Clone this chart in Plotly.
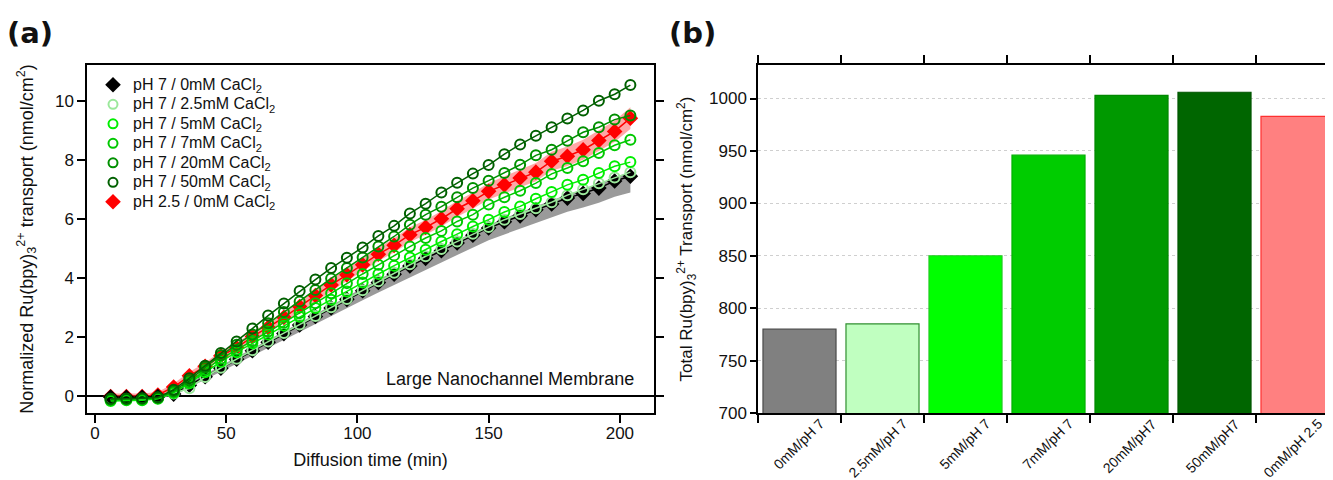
import plotly.graph_objects as go

# ---------------- data: panel (a) ----------------
time_min = [6, 12, 18, 24, 30, 36, 42, 48, 54, 60, 66, 72, 78, 84, 90, 96, 102, 108, 114, 120,
            126, 132, 138, 144, 150, 156, 162, 168, 174, 180, 186, 192, 198, 204]

ph7_0mM = [-0.02, -0.03, -0.03, 0.00, 0.08, 0.38, 0.67, 0.96, 1.26, 1.55, 1.84, 2.13, 2.42, 2.71, 3.00, 3.29, 3.58,
           3.86, 4.14, 4.42, 4.68, 4.94, 5.20, 5.46, 5.71, 5.92, 6.12, 6.33, 6.52, 6.72, 6.88, 7.06, 7.30, 7.46]
ph7_0mM_err_up = [0.06, 0.06, 0.06, 0.06, 0.08, 0.08, 0.08, 0.08, 0.08, 0.08, 0.08, 0.08, 0.08, 0.08, 0.08, 0.10, 0.10,
                  0.10, 0.10, 0.10, 0.10, 0.10, 0.10, 0.10, 0.10, 0.12, 0.12, 0.12, 0.12, 0.12, 0.12, 0.12, 0.13, 0.15]
ph7_0mM_err_dn = [0.06, 0.06, 0.06, 0.06, 0.06, 0.08, 0.10, 0.12, 0.14, 0.16, 0.19, 0.21, 0.24, 0.26, 0.28, 0.30, 0.32,
                  0.34, 0.36, 0.38, 0.39, 0.40, 0.41, 0.41, 0.42, 0.43, 0.44, 0.44, 0.45, 0.46, 0.48, 0.50, 0.53, 0.55]
ph7_2p5mM = [-0.10, -0.10, -0.10, -0.06, 0.10, 0.28, 0.66, 0.97, 1.28, 1.57, 1.86, 2.15, 2.44, 2.73, 3.02, 3.30, 3.60,
             3.90, 4.19, 4.48, 4.75, 5.00, 5.25, 5.51, 5.74, 5.99, 6.18, 6.38, 6.58, 6.82, 7.02, 7.22, 7.42, 7.60]
ph7_5mM = [-0.15, -0.13, -0.13, -0.08, 0.12, 0.45, 0.82, 1.18, 1.50, 1.80, 2.10, 2.40, 2.70, 3.00, 3.28, 3.56, 3.86,
           4.15, 4.43, 4.71, 4.97, 5.25, 5.50, 5.76, 5.99, 6.25, 6.44, 6.70, 6.93, 7.17, 7.34, 7.57, 7.80, 7.94]
ph7_7mM = [-0.12, -0.10, -0.10, -0.06, 0.15, 0.48, 0.90, 1.28, 1.58, 1.88, 2.20, 2.50, 2.83, 3.16, 3.50, 3.84, 4.15,
           4.46, 4.78, 5.08, 5.37, 5.61, 5.93, 6.16, 6.50, 6.75, 6.97, 7.23, 7.54, 7.74, 7.97, 8.25, 8.51, 8.70]
ph7_20mM = [-0.10, -0.08, -0.08, -0.04, 0.18, 0.55, 0.98, 1.40, 1.75, 2.10, 2.48, 2.86, 3.22, 3.61, 4.00, 4.35, 4.71,
            5.08, 5.42, 5.82, 6.16, 6.43, 6.75, 7.06, 7.31, 7.57, 7.85, 8.17, 8.36, 8.66, 8.95, 9.12, 9.38, 9.52]
ph7_50mM = [-0.08, -0.08, -0.06, -0.03, 0.23, 0.62, 1.04, 1.47, 1.86, 2.30, 2.74, 3.15, 3.57, 3.96, 4.35, 4.70, 5.05,
            5.44, 5.78, 6.20, 6.53, 6.91, 7.24, 7.55, 7.84, 8.21, 8.54, 8.83, 9.12, 9.42, 9.69, 10.02, 10.24, 10.55]
ph2p5_0mM = [0.00, 0.00, 0.00, 0.05, 0.32, 0.70, 1.02, 1.38, 1.65, 2.03, 2.34, 2.68, 3.05, 3.42, 3.78, 4.12, 4.46,
             4.82, 5.12, 5.48, 5.73, 6.02, 6.36, 6.63, 6.95, 7.17, 7.40, 7.60, 7.97, 8.14, 8.36, 8.67, 8.98, 9.43]
ph2p5_0mM_err = [0.10, 0.10, 0.10, 0.10, 0.12, 0.13, 0.13, 0.14, 0.15, 0.16, 0.17, 0.18, 0.19, 0.20, 0.20, 0.21, 0.22,
                 0.23, 0.24, 0.25, 0.25, 0.26, 0.27, 0.27, 0.28, 0.29, 0.30, 0.31, 0.32, 0.33, 0.34, 0.35, 0.36, 0.37]

series_names = ["pH 7 / 0mM CaCl<sub>2</sub>", "pH 7 / 2.5mM CaCl<sub>2</sub>", "pH 7 / 5mM CaCl<sub>2</sub>",
                "pH 7 / 7mM CaCl<sub>2</sub>", "pH 7 / 20mM CaCl<sub>2</sub>", "pH 7 / 50mM CaCl<sub>2</sub>",
                "pH 2.5 / 0mM CaCl<sub>2</sub>"]

# ---------------- data: panel (b) ----------------
bar_labels = ["0mM/pH 7", "2.5mM/pH 7", "5mM/pH 7", "7mM/pH 7", "20mM/pH7", "50mM/pH7", "0mM/pH 2.5"]
bar_values = [780, 785, 850, 946, 1003, 1006, 983]
bar_fill = ["#808080", "#C0FFC0", "#00FF00", "#00CC00", "#009900", "#006600", "#FF8080"]
bar_edge = ["#4a4a4a", "#2f8f2f", "#22cc22", "#00b000", "#008800", "#005500", "#FF3030"]

FONT = "Liberation Sans, Arial, sans-serif"

fig = go.Figure()

# shaded bands
b_lo = [v - e for v, e in zip(ph7_0mM, ph7_0mM_err_dn)]
b_hi = [v + e for v, e in zip(ph7_0mM, ph7_0mM_err_up)]
fig.add_trace(go.Scatter(x=time_min, y=b_lo, mode="lines", line=dict(width=0, color="rgba(0,0,0,0)"),
                         showlegend=False, hoverinfo="skip"))
fig.add_trace(go.Scatter(x=time_min, y=b_hi, mode="lines", line=dict(width=0, color="rgba(0,0,0,0)"),
                         fill="tonexty", fillcolor="rgba(120,120,120,0.75)", showlegend=False, hoverinfo="skip"))
r_lo = [v - e for v, e in zip(ph2p5_0mM, ph2p5_0mM_err)]
r_hi = [v + e for v, e in zip(ph2p5_0mM, ph2p5_0mM_err)]
fig.add_trace(go.Scatter(x=time_min, y=r_lo, mode="lines", line=dict(width=0, color="rgba(0,0,0,0)"),
                         showlegend=False, hoverinfo="skip"))
fig.add_trace(go.Scatter(x=time_min, y=r_hi, mode="lines", line=dict(width=0, color="rgba(0,0,0,0)"),
                         fill="tonexty", fillcolor="rgba(255,80,80,0.5)", showlegend=False, hoverinfo="skip"))

series_y = [ph7_0mM, ph7_2p5mM, ph7_5mM, ph7_7mM, ph7_20mM, ph7_50mM, ph2p5_0mM]
series_col = ["#000000", "#9BE89B", "#00EE00", "#00C800", "#009000", "#006000", "#FF0000"]
series_sym = ["diamond", "circle-open", "circle-open", "circle-open", "circle-open", "circle-open", "diamond"]
draw_order = [6, 0, 1, 2, 3, 4, 5]
for i in draw_order:
    filled = series_sym[i] == "diamond"
    fig.add_trace(go.Scatter(
        x=time_min, y=series_y[i], mode="lines+markers", name=series_names[i], showlegend=False,
        line=dict(color=series_col[i], width=1.5),
        marker=dict(symbol=series_sym[i], size=12 if filled else 10, color=series_col[i],
                    line=dict(color=series_col[i], width=0 if filled else 2)),
    ))
# legend entries (markers only, as in the reference legend)
for i in range(7):
    filled = series_sym[i] == "diamond"
    fig.add_trace(go.Scatter(
        x=[None], y=[None], mode="markers",
        name="<span style='font-size:16px'>" + series_names[i] + "</span>",
        marker=dict(symbol=series_sym[i], size=12 if filled else 9, color=series_col[i],
                    line=dict(color=series_col[i], width=0 if filled else 2)),
    ))

# bars
fig.add_trace(go.Bar(x=bar_labels, y=bar_values, marker=dict(color=bar_fill, line=dict(color=bar_edge, width=1.2)),
                     xaxis="x2", yaxis="y2", showlegend=False, width=0.88))

Y_DOM = [1 - 405 / 480, 1 - 57 / 480]
line_common = dict(showline=True, linecolor="black", linewidth=1.5, ticks="outside", tickcolor="black",
                   tickwidth=1.5, automargin=False)
TICKFONT = dict(family=FONT, size=17, color="#111")

# rotated category labels of panel (b), placed at each category on the bar axis
cat_annotations = [
    dict(text=lab, x=lab, y=700, xref="x2", yref="y2", xanchor="right", yanchor="top", xshift=31, yshift=0,
         textangle=-45, showarrow=False, font=dict(family=FONT, size=14, color="#111"))
    for lab in bar_labels
]

fig.update_layout(
    width=1333, height=480, margin=dict(l=0, r=0, t=0, b=0),
    paper_bgcolor="white", plot_bgcolor="white",
    font=dict(family=FONT, size=15, color="#111"),
    xaxis=dict(domain=[79 / 1333, 646 / 1333], range=[-3, 213], tickvals=[0, 50, 100, 150, 200],
               ticklen=8, mirror=True, showgrid=False, zeroline=False, tickfont=TICKFONT,
               ticklabelstandoff=-4,
               title=dict(text="Diffusion time (min)", font=dict(family=FONT, size=18), standoff=11),
               **line_common),
    yaxis=dict(domain=Y_DOM, range=[-0.56, 11.23], tickvals=[0, 2, 4, 6, 8, 10], ticklen=8,
               mirror="ticks", showgrid=False, zeroline=True, zerolinecolor="black", zerolinewidth=1.5,
               tickfont=TICKFONT,
               title=dict(text="Normalized Ru(bpy)<sub>3</sub><sup>2+</sup> transport (nmol/cm<sup>2</sup>)",
                          font=dict(family=FONT, size=18), standoff=17),
               **line_common),
    xaxis2=dict(domain=[750 / 1333, 1331 / 1333], type="category", anchor="y2", tickson="boundaries",
                ticklen=8, mirror="ticks", showgrid=False, showticklabels=False, **line_common),
    yaxis2=dict(domain=Y_DOM, anchor="x2", range=[700, 1032], tickvals=[700, 750, 800, 850, 900, 950, 1000],
                ticklen=6, mirror=True, showgrid=True, gridcolor="#cfcfcf", griddash="dot", gridwidth=1,
                zeroline=False, tickfont=TICKFONT,
                title=dict(text="Total Ru(bpy)<sub>3</sub><sup>2+</sup> Transport (nmol/cm<sup>2</sup>)",
                           font=dict(family=FONT, size=17), standoff=12),
                **line_common),
    bargap=0.12,
    legend=dict(x=85 / 1333, y=1 - 62 / 480, xanchor="left", yanchor="top", bgcolor="rgba(0,0,0,0)",
                font=dict(family=FONT, size=12.7, color="#111"), tracegroupgap=0, itemsizing="trace",
                traceorder="normal"),
    annotations=[
        dict(text="<b>(a)</b>", x=0, y=1 - 6 / 480, xref="paper", yref="paper", xanchor="left", xshift=-3,
             yanchor="top", showarrow=False, font=dict(family="DejaVu Sans", size=29, color="#111")),
        dict(text="<b>(b)</b>", x=659 / 1333, y=1 - 6 / 480, xref="paper", yref="paper", xanchor="left",
             yanchor="top", showarrow=False, font=dict(family="DejaVu Sans", size=29, color="#111")),
        dict(text="Large Nanochannel Membrane", x=628 / 1333, y=1 - 371 / 480, xref="paper", yref="paper",
             xanchor="right", yanchor="middle", showarrow=False, font=dict(family=FONT, size=18, color="#111")),
    ] + cat_annotations,
)

fig.write_html("out.html")
